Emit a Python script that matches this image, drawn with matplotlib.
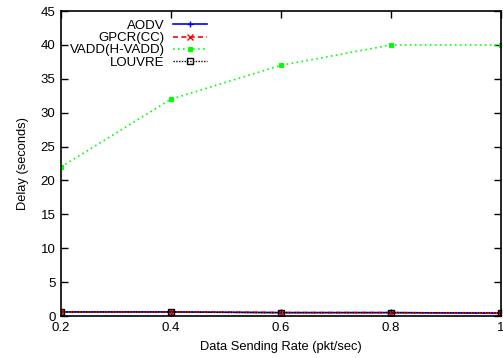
import matplotlib
matplotlib.use("Agg")
import matplotlib.pyplot as plt

plt.rcParams['font.family'] = ['Liberation Sans', 'DejaVu Sans']

rates = [0.2, 0.4, 0.6, 0.8, 1.0]
aodv = [0.6, 0.6, 0.5, 0.5, 0.4]
gpcr = [0.6, 0.6, 0.5, 0.5, 0.4]
vadd = [22, 32, 37, 40, 40]
louvre = [0.6, 0.6, 0.5, 0.5, 0.5]

x_ticks = [0.2, 0.4, 0.6, 0.8, 1.0]
x_tick_labels = ["0.2", "0.4", "0.6", "0.8", "1"]
y_ticks = [0, 5, 10, 15, 20, 25, 30, 35, 40, 45]

fig = plt.figure(figsize=(5.03, 3.58), dpi=100)
ax = fig.add_axes([0.1213, 0.1173, 0.8747, 0.8517])

ax.plot(rates, aodv, color="#0000ff", lw=1.2, marker="+", ms=4, mew=1, label="AODV")
ax.plot(rates, gpcr, color="#ff0000", lw=1.2, ls=(0, (3, 2)), marker="x", ms=4, mew=1, label="GPCR(CC)")
ax.plot(rates, vadd, color="#00ff00", lw=1.2, ls=(0, (1, 2)), marker="s", ms=3.5, mew=0.8, label="VADD(H-VADD)")
ax.plot(rates, louvre, color="#000000", lw=1.0, ls=(0, (1, 1)), marker="s", ms=4, mfc="none", mew=1, label="LOUVRE")

ax.set_xlim(0.2, 1.0)
ax.set_ylim(0, 45)
ax.set_xticks(x_ticks)
ax.set_xticklabels(x_tick_labels)
ax.set_yticks(y_ticks)
ax.tick_params(direction="in", top=True, right=True, length=5, width=1, labelsize=9.5, pad=4)
for s in ax.spines.values():
    s.set_linewidth(1.2)

ax.set_xlabel("Data Sending Rate (pkt/sec)", fontsize=9.3, labelpad=5)
ax.set_ylabel("Delay (seconds)", fontsize=9.3, labelpad=8)

leg = ax.legend(loc="upper left", bbox_to_anchor=(0.0, 1.0), frameon=False, markerfirst=False,
                fontsize=9.5, handlelength=2.65, handletextpad=0.6, labelspacing=0.0,
                borderaxespad=0.25)
for t in leg.get_texts():
    t.set_ha("right")
leg._legend_box.align = "right"

fig.savefig("out.png", dpi=100)
